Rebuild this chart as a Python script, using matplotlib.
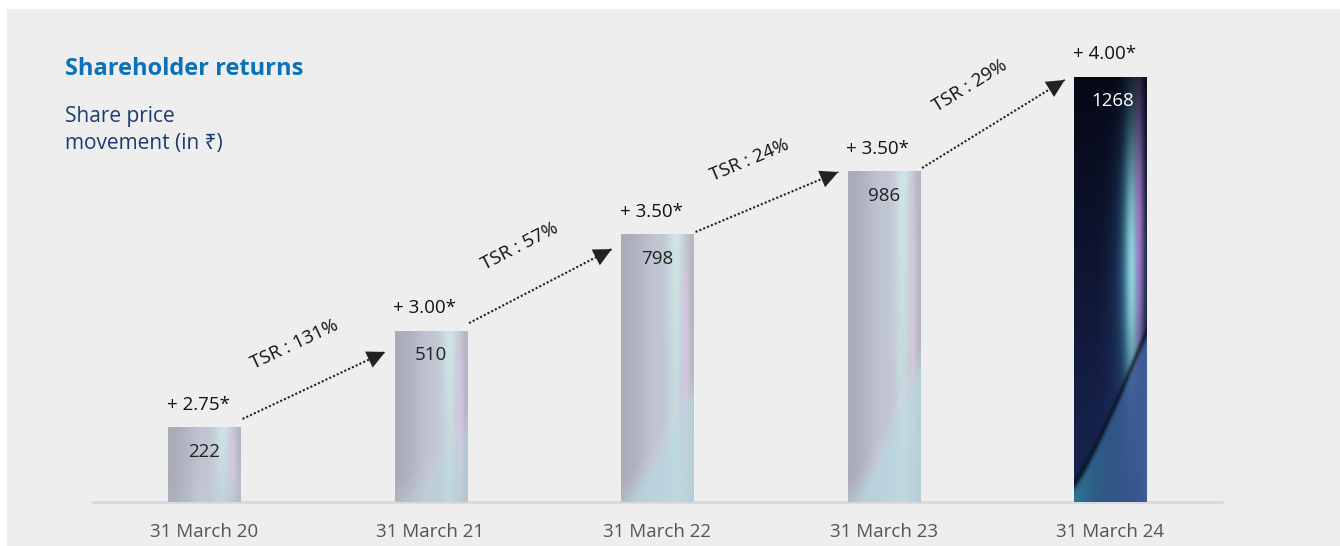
import numpy as np
import matplotlib
from matplotlib import pyplot as plt
from matplotlib.patches import Rectangle

matplotlib.rcParams["font.family"] = ["Open Sans", "Noto Sans", "DejaVu Sans"]

dates = ["31 March 20", "31 March 21", "31 March 22", "31 March 23", "31 March 24"]
share_price = [222, 510, 798, 986, 1268]
dividends = ["2.75", "3.00", "3.50", "3.50", "4.00"]
tsr = ["131%", "57%", "24%", "29%"]

W, H = 1340, 546
bar_w = 0.318


def blend(img, mask, color):
    m = mask[..., None]
    return img * (1 - m) + np.array(color) * m


def silver_texture(h_px, w_px=72):
    h = max(int(h_px), 2)
    u = np.linspace(0, 1, w_px)[None, :] * np.ones((h, 1))
    y = np.arange(h)[::-1][:, None].astype(float) * np.ones((1, w_px))
    t = y / h
    img = np.ones((h, w_px, 3)) * np.array([0.66, 0.67, 0.72])
    img = blend(img, 0.8 * np.exp(-((u - 0.5) / 0.28) ** 2), (0.78, 0.79, 0.85))
    img = blend(img, 0.75 * np.exp(-((u - 0.76) / 0.14) ** 2) * (0.6 + 0.4 * t), (0.85, 0.96, 0.95))
    img = blend(img, 0.55 * np.exp(-((u - 0.9) / 0.06) ** 2) * (0.5 + 0.5 * np.sin(np.pi * t)),
                (0.92, 0.81, 0.94))
    img = blend(img, 0.4 * (u > 0.96), (0.74, 0.75, 0.82))
    # lower diagonal sheet
    bnd = 0.42 * h * u ** 1.3
    s = 0.65 * min(1.0, h / 260)
    img = blend(img, s / (1 + np.exp((y - bnd) / 3)), (0.73, 0.86, 0.89))
    img = blend(img, 0.25 * s * np.exp(-((y - bnd - 8) / 8) ** 2), (0.86, 0.87, 0.92))
    return np.clip(img, 0, 1)


def dark_texture(h_px, w_px=72):
    h = int(h_px)
    u = np.linspace(0, 1, w_px)[None, :] * np.ones((h, 1))
    y = np.arange(h)[::-1][:, None].astype(float) * np.ones((1, w_px))
    t = y / h
    img = np.ones((h, w_px, 3)) * np.array([0.02, 0.03, 0.08])
    img = blend(img, 1 - t, (0.10, 0.15, 0.33))
    img = blend(img, 0.5 * np.exp(-((u - 0.6) / 0.2) ** 2) * (1 - t), (0.12, 0.20, 0.40))
    env = np.exp(-((t - 0.55) / 0.3) ** 2)
    img = blend(img, 0.6 * np.exp(-((u - 0.76) / 0.18) ** 2) * env, (0.20, 0.45, 0.60))
    img = blend(img, 0.85 * np.exp(-((u - 0.80) / 0.10) ** 2) * env, (0.60, 0.94, 0.92))
    img = blend(img, 0.6 * np.exp(-((u - 0.90) / 0.07) ** 2) * np.exp(-((t - 0.62) / 0.32) ** 2),
                (0.82, 0.50, 0.92))
    bnd = 15 + 150 * u ** 1.15
    m = 1 / (1 + np.exp((y - bnd) / 3))
    img = blend(img, m * (1 - u), (0.18, 0.47, 0.58))
    img = blend(img, m * u, (0.25, 0.36, 0.60))
    img = blend(img, 0.65 * np.exp(-((y - bnd - 4) / 6) ** 2), (0.02, 0.04, 0.10))
    return np.clip(img, 0, 1)


fig = plt.figure(figsize=(W / 100, H / 100), dpi=100)
fig.patch.set_facecolor("white")
fig.patches.append(Rectangle((7 / W, 0), 1, (H - 9) / H, transform=fig.transFigure,
                             facecolor="#eeeeee", edgecolor="none", zorder=-5))

ax = fig.add_axes([90.75 / W, 44 / H, (W - 90.75) / W, 469 / H])
ax.axis("off")
ax.set_zorder(2)

ax.plot([-0.5, 4.5], [0, 0], color="#d9d9d9", lw=2, solid_capstyle="butt", zorder=1, clip_on=False)

x = np.arange(len(share_price))
for i, (v, d) in enumerate(zip(share_price, dividends)):
    px = v * 469 / 1400
    last = i == len(share_price) - 1
    tex = dark_texture(px) if last else silver_texture(px)
    ax.imshow(tex, extent=(x[i] - bar_w / 2, x[i] + bar_w / 2, 0, v), aspect="auto",
              interpolation="bilinear", zorder=2)
    ax.annotate(str(v), (x[i] + (0.01 if last else 0), v), xytext=(0, -24), textcoords="offset pixels",
                ha="center", va="center", fontsize=13.5,
                color="white" if last else "#222222", zorder=3)
    ax.annotate("+ " + d + "*", (x[i] - 0.025, v), xytext=(0, 23), textcoords="offset pixels",
                ha="center", va="center", fontsize=13.5, color="#111111")
    ax.annotate(dates[i], (x[i], 0), xytext=(0, -30), textcoords="offset pixels",
                ha="center", va="center", fontsize=13.5, color="#555555",
                annotation_clip=False)
ax.set_xlim(-0.5, 5.015)
ax.set_ylim(0, 1400)

# TSR arrows between bars
start_off = [26, 24, 8, 11]
end_off = [-62, -43, -1, -8]
fig.canvas.draw()
for i, label in enumerate(tsr):
    p0 = (x[i] + 0.17, share_price[i] + start_off[i])
    p1 = (x[i + 1] - 0.2, share_price[i + 1] + end_off[i])
    ax.plot([p0[0], p1[0]], [p0[1], p1[1]], color="#222222", lw=1.5,
            linestyle=(0, (1, 1)), zorder=4)
    d0 = ax.transData.transform(p0)
    d1 = ax.transData.transform(p1)
    ang = np.degrees(np.arctan2(d1[1] - d0[1], d1[0] - d0[0]))
    ax.annotate("", xy=p1, xytext=(p1[0] - 0.02, p1[1] - 0.02 * (p1[1] - p0[1]) / (p1[0] - p0[0])),
                arrowprops=dict(arrowstyle="-|>,head_length=0.65,head_width=0.32",
                                color="#222222", lw=0, mutation_scale=20), zorder=5)
    mid = (d0 + d1) / 2
    nrm = np.array([-np.sin(np.radians(ang)), np.cos(np.radians(ang))])
    pos = ax.transData.inverted().transform(mid + 45 * nrm)
    ax.text(pos[0], pos[1], "TSR : " + label, rotation=ang, rotation_mode="anchor",
            ha="center", va="center", fontsize=13.5, color="#111111")

fig.text(65 / W, 1 - 75 / H, "Shareholder returns", fontsize=17, fontweight="bold",
         color="#0a72ba", va="baseline")
fig.text(65 / W, 1 - 122 / H, "Share price", fontsize=15, color="#1b3c70", va="baseline")
fig.text(65 / W, 1 - 149 / H, "movement (in ₹)", fontsize=15, color="#1b3c70", va="baseline")

fig.savefig("out.png", dpi=100, facecolor=fig.get_facecolor())
